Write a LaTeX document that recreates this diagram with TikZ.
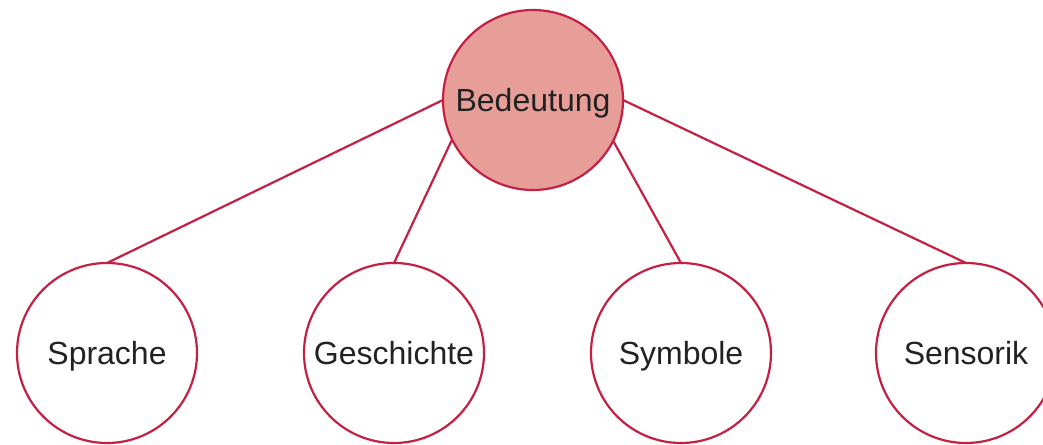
\documentclass[tikz,border=0pt]{standalone}
\usepackage{fontspec}
\setmainfont{Liberation Sans}
\definecolor{edgered}{HTML}{C42044}
\definecolor{topfill}{HTML}{E89E98}
\definecolor{txt}{HTML}{222222}
\begin{document}
\begin{tikzpicture}[x=1bp,y=-1bp,
  bubble/.style={circle,draw=edgered,line width=2.2bp,minimum size=180bp,inner sep=0pt,outer sep=0pt,
    text=txt,font=\fontsize{32bp}{38bp}\selectfont,text height=27bp,text depth=3bp},
  link/.style={draw=edgered,line width=2.2bp}]
\useasboundingbox (0,0) rectangle (1043,445);
\node[bubble,fill=topfill] (top) at (533,100) {Bedeutung};
\node[bubble,fill=white] (spr) at (107,353) {Sprache};
\node[bubble,fill=white] (ges) at (394,353) {Geschichte};
\node[bubble,fill=white] (sym) at (681,353) {Symbole};
\node[bubble,fill=white] (sen) at (966,353) {Sensorik};
\draw[link] (top.west) -- (spr.north);
\draw[link] (top.206) -- (ges.north);
\draw[link] (top.333) -- (sym.north);
\draw[link] (top.east) -- (sen.north);
\end{tikzpicture}
\end{document}
